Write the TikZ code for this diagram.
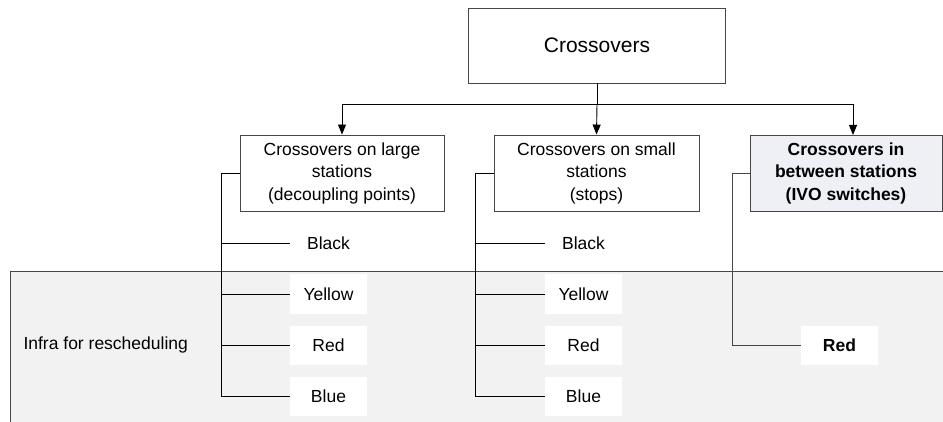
\documentclass[tikz,border=0pt]{standalone}
\usepackage{fontspec}
\setmainfont{Liberation Sans}
\usetikzlibrary{arrows.meta}
\definecolor{zonegrey}{RGB}{242,242,242}
\definecolor{ivofill}{RGB}{238,240,246}
\definecolor{edgegrey}{RGB}{70,70,70}
\tikzset{
  catbox/.style={draw=edgegrey, line width=0.9pt, minimum width=204pt, minimum height=76pt,
    align=center, inner sep=0pt, font=\fontsize{17.5}{22.5}\selectfont},
  colourbox/.style={fill=white, minimum width=77pt, minimum height=39pt, inner sep=0pt,
    font=\fontsize{17.5}{22.5}\selectfont},
  link/.style={draw=black, line width=0.9pt},
  drop/.style={link, -{Triangle[width=8pt,length=10pt]}}
}
\begin{document}
\begin{tikzpicture}[x=1pt,y=-1pt]
\useasboundingbox (0,0) rectangle (943,422);

% shaded band for the rescheduling infrastructure
\fill[zonegrey] (10,271) rectangle (943,422);
\draw[edgegrey, line width=0.9pt] (10,422) -- (10,271) -- (943,271);
\node[anchor=west, font=\fontsize{17.5}{22.5}\selectfont] (infra) at (20,345) {Infra for rescheduling};

% root
\node[catbox, minimum width=257pt, minimum height=75pt, font=\fontsize{21}{25}\selectfont] (root) at (597,45.5) {Crossovers};

% categories
\node[catbox] (large) at (342,173) {Crossovers on large\\stations\\(decoupling points)};
\node[catbox, minimum width=205pt] (small) at (596.5,173) {Crossovers on small\\stations\\(stops)};
\node[catbox, minimum width=192pt, fill=ivofill, font=\fontsize{17.5}{22.5}\selectfont\bfseries] (ivo) at (846,173) {Crossovers in\\between stations\\(IVO switches)};

% root to categories
\coordinate (split) at (597,104);
\coordinate (ivotop) at (853,135);
\draw[link] (root.south) -- (split);
\draw[drop] (split) -| (large.north);
\draw[drop] (split) -- (small.north);
\draw[drop] (split) -| (ivotop);

% colour labels, large stations
\node[colourbox, fill=none] (lblack) at (328.5,243) {Black};
\node[colourbox] (lyellow) at (328.5,294) {Yellow};
\node[colourbox] (lred) at (328.5,345.5) {Red};
\node[colourbox] (lblue) at (328.5,396.5) {Blue};

% colour labels, small stations
\node[colourbox, fill=none] (sblack) at (583.5,243) {Black};
\node[colourbox] (syellow) at (583.5,294) {Yellow};
\node[colourbox] (sred) at (583.5,345.5) {Red};
\node[colourbox] (sblue) at (583.5,396.5) {Blue};

% colour label, between stations
\node[colourbox, font=\fontsize{17.5}{22.5}\selectfont\bfseries] (ired) at (839.5,345.5) {Red};

% spines
\coordinate (lspine) at (221,173);
\coordinate (sspine) at (475,173);
\coordinate (ispine) at (732,173);
\draw[link] (large.west) -- (lspine) |- (lblue.west);
\draw[link] (lspine |- lblack) -- (lblack.west);
\draw[link] (lspine |- lyellow) -- (lyellow.west);
\draw[link] (lspine |- lred) -- (lred.west);

\draw[link] (small.west) -- (sspine) |- (sblue.west);
\draw[link] (sspine |- sblack) -- (sblack.west);
\draw[link] (sspine |- syellow) -- (syellow.west);
\draw[link] (sspine |- sred) -- (sred.west);

\draw[link, draw=edgegrey] (ivo.west) -- (ispine) |- (ired.west);
\end{tikzpicture}
\end{document}
